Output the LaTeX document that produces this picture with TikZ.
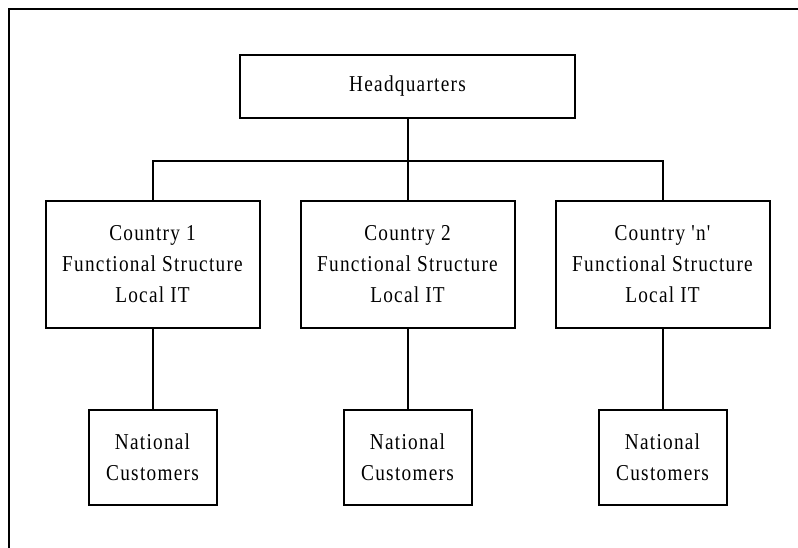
\documentclass[tikz,border=0pt]{standalone}
\usepackage{fontspec}
\setmainfont{Liberation Serif}[FakeStretch=0.85,LetterSpace=5.5,Ligatures=TeXOff]
\begin{document}
\begin{tikzpicture}[x=1pt,y=-1pt,
  every node/.style={font=\fontsize{22.7}{31}\selectfont, align=center, inner sep=0pt},
  box/.style={draw, line width=2pt},
  hqbox/.style={box, minimum width=335pt, minimum height=63pt},
  cbox/.style={box, minimum width=214pt, minimum height=126pt},
  nbox/.style={box, minimum width=128pt, minimum height=95pt},
  conn/.style={line width=2pt}]
\useasboundingbox (0,0) rectangle (798,548);
\draw[line width=2pt] (9,548) -- (9,9) -- (798,9);
\node[hqbox] (hq) at (407.5,86.5) {Headquarters};
\node[cbox] (c1) at (152.5,264.5) {Country 1\\Functional Structure\\Local IT};
\node[cbox] (c2) at (407.5,264.5) {Country 2\\Functional Structure\\Local IT};
\node[cbox] (c3) at (662.5,264.5) {Country 'n'\\Functional Structure\\Local IT};
\node[nbox] (n1) at (152.5,457.5) {National\\Customers};
\node[nbox] (n2) at (407.5,457.5) {National\\Customers};
\node[nbox] (n3) at (662.5,457.5) {National\\Customers};
\coordinate (bus) at (407.5,161);
\draw[conn] (hq.south) -- (c2.north);
\draw[conn] (c1.north) |- (bus) -| (c3.north);
\draw[conn] (c1.south) -- (n1.north);
\draw[conn] (c2.south) -- (n2.north);
\draw[conn] (c3.south) -- (n3.north);
\end{tikzpicture}
\end{document}
